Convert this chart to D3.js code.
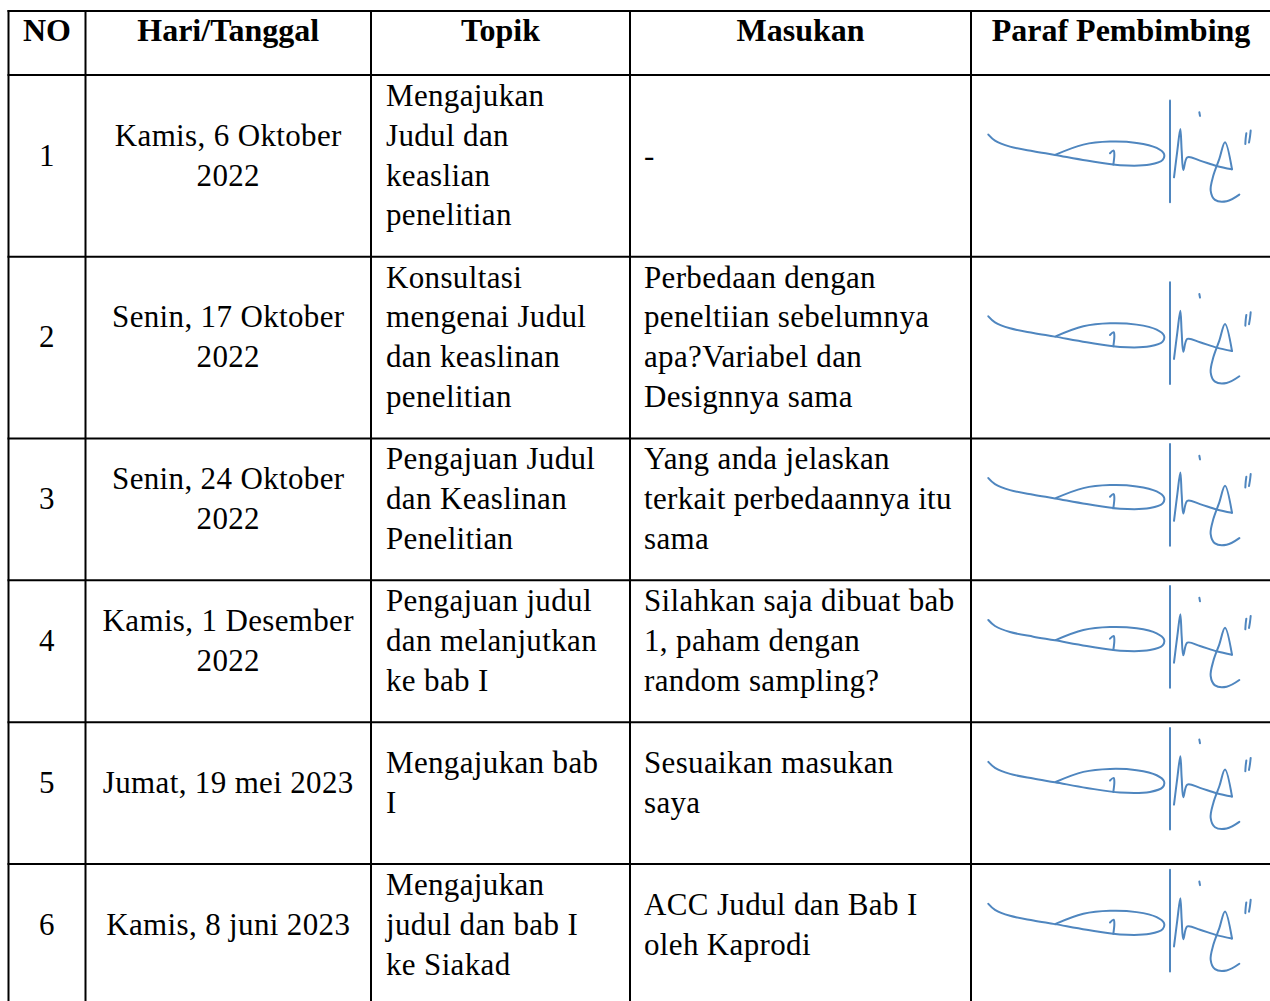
<!DOCTYPE html>
<html>
<head>
<meta charset="utf-8">
<script src="https://cdn.jsdelivr.net/npm/d3@7"></script>
<style>
  body { margin: 0; background: #fff; }
  text { font-family: "Liberation Serif", "Times New Roman", serif; fill: #000; }
  .head { font-weight: bold; font-size: 32px; }
  .cell { font-size: 31px; letter-spacing: 0.35px; }
</style>
</head>
<body>
<div class="tabel"></div>
<script>
const headers = ["NO", "Hari/Tanggal", "Topik", "Masukan", "Paraf Pembimbing"]
const nomor = ["1", "2", "3", "4", "5", "6"]
const tanggal = [
  ["Kamis, 6 Oktober", "2022"],
  ["Senin, 17 Oktober", "2022"],
  ["Senin, 24 Oktober", "2022"],
  ["Kamis, 1 Desember", "2022"],
  ["Jumat, 19 mei 2023"],
  ["Kamis, 8 juni 2023"]
]
const topik = [
  ["Mengajukan", "Judul dan", "keaslian", "penelitian"],
  ["Konsultasi", "mengenai Judul", "dan keaslinan", "penelitian"],
  ["Pengajuan Judul", "dan Keaslinan", "Penelitian"],
  ["Pengajuan judul", "dan melanjutkan", "ke bab I"],
  ["Mengajukan bab", "I"],
  ["Mengajukan", "judul dan bab I", "ke Siakad"]
]
const masukan = [
  ["-"],
  ["Perbedaan dengan", "peneltiian sebelumnya", "apa?Variabel dan", "Designnya sama"],
  ["Yang anda jelaskan", "terkait perbedaannya itu", "sama"],
  ["Silahkan saja dibuat bab", "1, paham dengan", "random sampling?"],
  ["Sesuaikan masukan", "saya"],
  ["ACC Judul dan Bab I", "oleh Kaprodi"]
]

// paraf strokes, traced on a 900 x 340 grid
const parafLoop = [[55,122],[75,140],[120,158],[190,172],[255,183],[350,200],[450,214],[540,212],[578,198],[582,180],[560,162],[500,147],[420,143],[340,152],[255,183]]
const parafHook = [[420,178],[431,170],[433,182],[430,212]]
const parafStem = [[600,20],[600,325]]
const parafM = [[612,250],[622,170],[631,105],[635,170],[640,228],[652,190],[690,200],[740,216],[786,226]]
const parafT = [[786,226],[765,145],[748,195],[730,245],[722,290],[735,318],[770,322],[808,302]]
const parafDot = [[688,55],[690,66]]
const parafTick1 = [[829,118],[827,134],[826,150]]
const parafTick2 = [[842,110],[840,128],[837,146]]
const parafStrokes = [parafLoop, parafHook, parafStem, parafM, parafT, parafDot, parafTick1, parafTick2]

const W = 1270, H = 1001
const leftX = 8.5, topY = 11
const colW = [77, 285.5, 259, 341, 300]
const headH = 64
const lineH = 39.8, padB = 22.5

const colX = [leftX, ...Array.from(d3.cumsum(colW), d => d + leftX)]

const rows = nomor.map((n, i) => ({
  no: n, tgl: tanggal[i], topik: topik[i], masukan: masukan[i],
  lines: Math.max(tanggal[i].length, topik[i].length, masukan[i].length)
}))
rows.forEach(r => { r.h = Math.max(r.lines * lineH + padB, 3 * lineH + padB) })
const rowY = [topY + headH, ...Array.from(d3.cumsum(rows, r => r.h), d => d + topY + headH)]
rows.forEach((r, i) => {
  r.y0 = rowY[i]
  r.y1 = rowY[i + 1]
  r.cy = (r.y0 + r.y1 - padB) / 2
})

const svg = d3.select(".tabel")
  .append("svg")
  .attr("width", W)
  .attr("height", H)

svg.append("rect").attr("width", W).attr("height", H).attr("fill", "#fff")

// header texts
svg.append("g")
  .selectAll("text")
  .data(headers)
  .join("text")
  .attr("class", "head")
  .attr("x", (d, i) => (colX[i] + colX[i + 1]) / 2)
  .attr("y", topY + 30)
  .attr("text-anchor", "middle")
  .text(d => d)

function cellLines(g, lines, cy, x, anchor){
  g.append("text")
    .attr("class", "cell")
    .attr("text-anchor", anchor)
    .selectAll("tspan")
    .data(lines)
    .join("tspan")
    .attr("x", x)
    .attr("y", (d, j) => cy - (lines.length - 1) * lineH / 2 + j * lineH + 11)
    .text(d => d)
}

const lineGen = d3.line().curve(d3.curveCatmullRom.alpha(0.5))

rows.forEach(r => {
  const g = svg.append("g")
  cellLines(g, [r.no], r.cy, (colX[0] + colX[1]) / 2, "middle")
  cellLines(g, r.tgl, r.cy, (colX[1] + colX[2]) / 2, "middle")
  cellLines(g, r.topik, r.cy, colX[2] + 15, "start")
  cellLines(g, r.masukan, r.cy, colX[3] + 14, "start")

  const sx = d3.scaleLinear().domain([0, 900]).range([colX[4] - 1, colX[4] + 299])
  const sy = d3.scaleLinear().domain([20, 320]).range([r.cy - 54, r.cy + 46])
  g.append("g")
    .selectAll("path")
    .data(parafStrokes)
    .join("path")
    .attr("d", s => lineGen(s.map(p => [sx(p[0]), sy(p[1])])))
    .attr("fill", "none")
    .attr("stroke", "#4f86bf")
    .attr("stroke-width", 2)
    .attr("stroke-linecap", "round")
    .attr("stroke-linejoin", "round")
})

// grid
const grid = svg.append("g")
  .attr("stroke", "#000")
  .attr("stroke-width", 2)
const yEnd = rowY[rowY.length - 1]
grid.selectAll("line.h")
  .data([topY, ...rowY])
  .join("line")
  .attr("class", "h")
  .attr("x1", leftX - 1)
  .attr("x2", colX[colX.length - 1])
  .attr("y1", d => d)
  .attr("y2", d => d)
grid.selectAll("line.v")
  .data(colX)
  .join("line")
  .attr("class", "v")
  .attr("x1", d => d)
  .attr("x2", d => d)
  .attr("y1", topY - 1)
  .attr("y2", yEnd + 1)
</script>
</body>
</html>
